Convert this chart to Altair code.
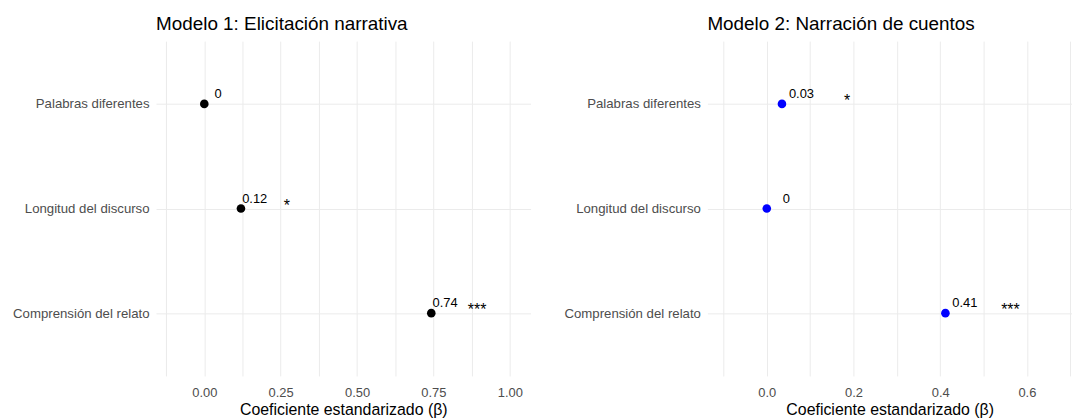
import altair as alt
import pandas as pd

predictors = ["Palabras diferentes", "Longitud del discurso", "Comprensión del relato"]

beta_m1 = [0.0, 0.12, 0.743]
labels_m1 = ["0", "0.12", "0.74"]
stars_m1 = ["", "*", "***"]

beta_m2 = [0.035, 0.0, 0.412]
labels_m2 = ["0.03", "0", "0.41"]
stars_m2 = ["*", "", "***"]

title_m1 = "Modelo 1: Elicitación narrativa"
title_m2 = "Modelo 2: Narración de cuentos"
x_title = "Coeficiente estandarizado (β)"

ticks_m1 = [0.0, 0.25, 0.5, 0.75, 1.0]
minor_m1 = [-0.125, 0.125, 0.375, 0.625, 0.875]
ticks_m2 = [0.0, 0.2, 0.4, 0.6]
minor_m2 = [-0.1, 0.1, 0.3, 0.5, 0.7]
domain_m1 = [-0.158, 1.068]
domain_m2 = [-0.137, 0.704]

FONT = "Liberation Sans"
GRID = "#EBEBEB"
GREY = "#4D4D4D"


def panel(beta, labels, stars, color, title, ticks, minor, domain, fmt, width):
    df = pd.DataFrame({"pred": predictors, "beta": beta, "label": labels, "stars": stars})
    base = alt.Chart(df).transform_calculate(
        lx="datum.beta + 0.045", sx="datum.beta + 0.15"
    )
    scale = alt.Scale(domain=domain, nice=False, zero=False)
    all_vals = sorted(ticks + minor)
    xaxis = alt.Axis(
        values=all_vals,
        labelExpr=f"indexof({ticks}, datum.value) >= 0 ? format(datum.value, '{fmt}') : ''",
        labelOverlap=False, ticks=False, domain=False, grid=True, gridColor=GRID,
        labelFont=FONT, labelFontSize=13, labelColor=GREY, labelPadding=11,
        title=x_title, titleFont=FONT, titleFontSize=16, titleFontWeight="normal",
        titleColor="black", titlePadding=2,
    )
    yenc = alt.Y(
        "pred:N",
        sort=predictors,
        scale=alt.Scale(padding=0.6),
        axis=alt.Axis(
            title=None, ticks=False, domain=False, labelFont=FONT, labelFontSize=13.3,
            labelColor=GREY, labelPadding=7, gridColor=GRID, grid=True, labelLimit=300,
        ),
    )
    points = base.mark_point(filled=True, size=75, opacity=1, color=color).encode(
        x=alt.X("beta:Q", scale=scale, axis=xaxis),
        y=yenc,
    )
    vals = base.mark_text(font=FONT, fontSize=13, color="black", dy=-10).encode(
        x=alt.X("lx:Q", scale=scale, axis=xaxis),
        y=yenc,
        text="label:N",
    )
    st = base.mark_text(font=FONT, fontSize=16, color="black", dy=-3).encode(
        x=alt.X("sx:Q", scale=scale, axis=xaxis),
        y=yenc,
        text="stars:N",
    )
    return alt.layer(points, vals, st).properties(
        width=width,
        height=337,
        title=alt.TitleParams(
            text=title, anchor="start", frame="group", fontSize=19, font=FONT,
            fontWeight="normal", color="black", offset=7,
        ),
    )


left = panel(beta_m1, labels_m1, stars_m1, "black", title_m1, ticks_m1, minor_m1,
             domain_m1, ".2f", 377)
right = panel(beta_m2, labels_m2, stars_m2, "blue", title_m2, ticks_m2, minor_m2,
              domain_m2, ".1f", 367)

chart = (
    alt.hconcat(left, right, spacing=33)
    .properties(padding={"left": 4, "top": 6, "right": 0, "bottom": 0})
    .configure_view(stroke=None)
)

chart.save("out.html", embed_options={"renderer": "svg", "actions": False})
